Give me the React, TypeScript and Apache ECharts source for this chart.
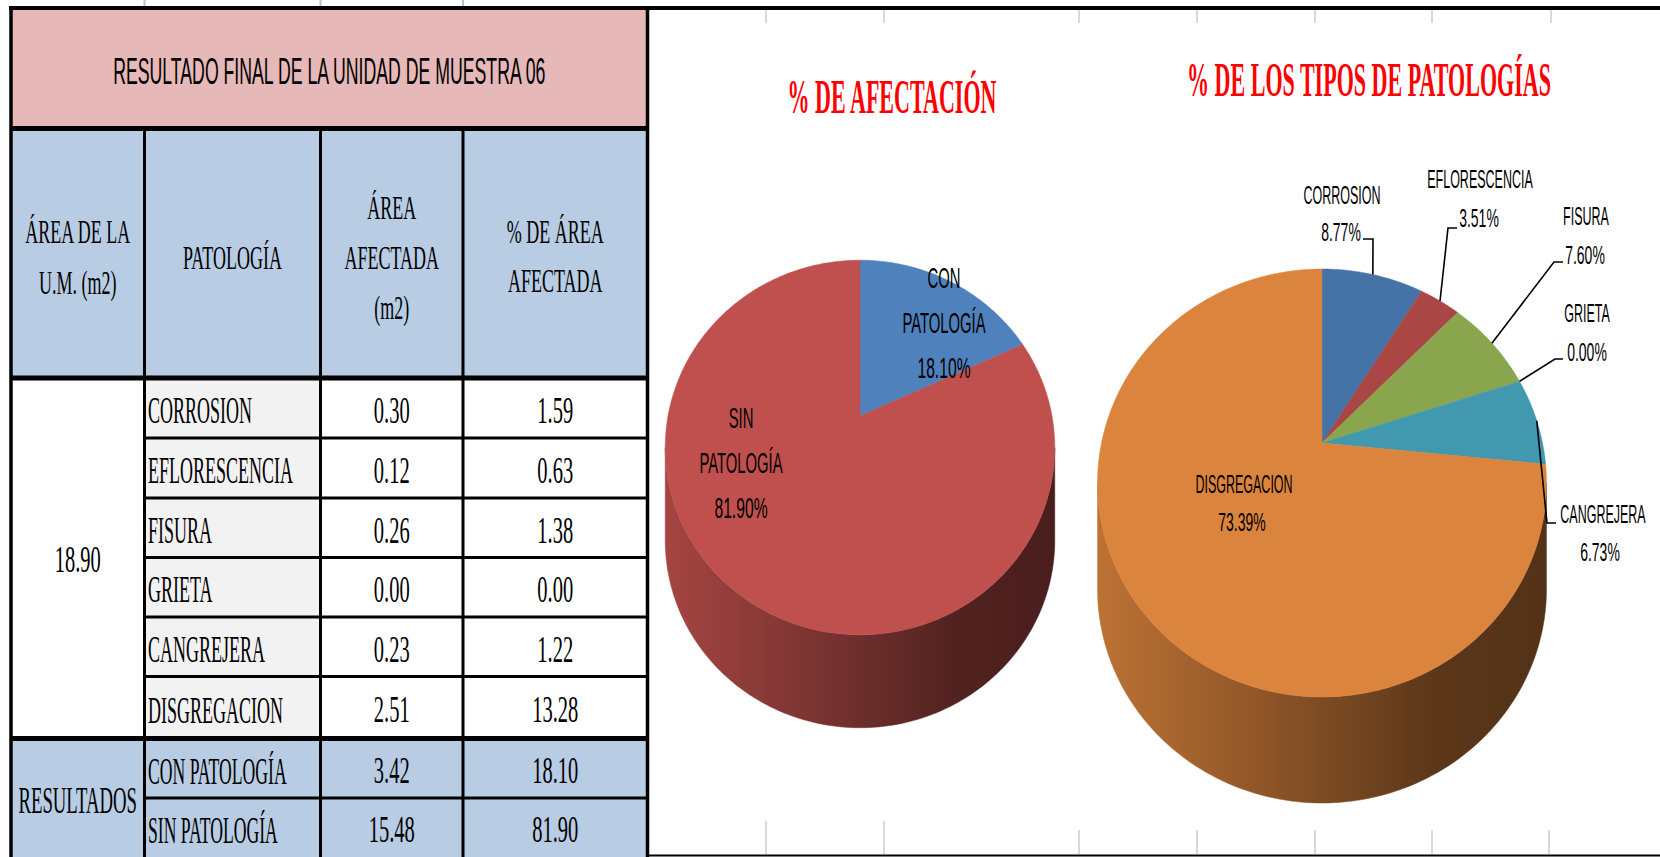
import React, { useEffect, useRef } from 'react';
import * as echarts from 'echarts';

// ---------------- DATA ----------------
const tableTitle = 'RESULTADO FINAL DE LA UNIDAD DE MUESTRA 06';
const headerCol1 = ['ÁREA DE LA', 'U.M. (m2)'];
const headerCol2 = ['PATOLOGÍA'];
const headerCol3 = ['ÁREA', 'AFECTADA', '(m2)'];
const headerCol4 = ['% DE ÁREA', 'AFECTADA'];
const unitArea = '18.90';
const pathologies = ['CORROSION', 'EFLORESCENCIA', 'FISURA', 'GRIETA', 'CANGREJERA', 'DISGREGACION'];
const affectedArea = [0.3, 0.12, 0.26, 0.0, 0.23, 2.51];
const affectedPct = [1.59, 0.63, 1.38, 0.0, 1.22, 13.28];
const resultLabel = 'RESULTADOS';
const resultCategories = ['CON PATOLOGÍA', 'SIN PATOLOGÍA'];
const resultArea = [3.42, 15.48];
const resultPct = [18.1, 81.9];

const chart1Title = '% DE AFECTACIÓN';
const chart1Names = [['CON', 'PATOLOGÍA'], ['SIN', 'PATOLOGÍA']];
const chart1Values = resultArea;
const chart2Title = '% DE LOS TIPOS DE PATOLOGÍAS';
const chart2Names = pathologies;
const chart2Values = affectedArea;

// ---------------- STYLE / LAYOUT ----------------
const chart1Colors = ['#4F81BD', '#C0504D'];
const chart2Colors = ['#4572A7', '#AA4643', '#89A54E', '#71588F', '#4198AF', '#DB843D'];
const PINK = '#E6B8B7';
const BLUE = '#B8CCE4';
const GRAY = '#F2F2F2';
const SERIF = '"Liberation Serif", "Times New Roman", serif';
const SANS = '"Liberation Sans", Arial, sans-serif';

const colX = [11, 144.5, 320.5, 463, 647.5];
const yTop = 8;
const yTitleBottom = 128.5;
const yHeaderBottom = 378;
const rowLines = [378, 438, 498, 557.5, 617, 676.5, 738.5];
const resultLines = [738.5, 798, 857];

type Geo = { cx: number; cy: number; rx: number; ry: number; k: number; depth: number };
const leftGeo: Geo = { cx: 860, cy: 416, rx: 192, ry: 182, k: 0.168, depth: 93 };
const rightGeo: Geo = { cx: 1322, cy: 443, rx: 220.5, ry: 206.5, k: 0.187, depth: 106 };

const leftLabelPos = [[944, 278], [741, 418]];
const leftLabelGap = 45;
const rightNamePos = [[1342, 194], [1480, 178], [1586, 215], [1587, 312], [1603, 513], [1244, 483]];
const rightPctPos = [[1341, 232], [1479, 218], [1585, 255], [1587, 352], [1600, 552], [1242, 522]];
// elbow x, elbow y, end x
const rightLeader: (number[] | null)[] = [
  [1373, 239, 1363],
  [1448, 228, 1457],
  [1554, 262, 1563],
  [1555, 359, 1563],
  [1547, 523, 1556],
  null,
];

// ---------------- HELPERS ----------------
function project(g: Geo, t: number, dy = 0): number[] {
  const u = Math.sin(t);
  const v = -Math.cos(t);
  const w = 1 - g.k * v;
  return [g.cx + (g.rx * u) / w, g.cy + (g.ry * v) / w + dy];
}
function arcPoints(g: Geo, a0: number, a1: number, dy = 0): number[][] {
  const n = Math.max(2, Math.ceil((a1 - a0) / (Math.PI / 180)));
  const pts: number[][] = [];
  for (let j = 0; j <= n; j++) pts.push(project(g, a0 + ((a1 - a0) * j) / n, dy));
  return pts;
}
function sliceAngles(values: number[]): number[][] {
  const total = values.reduce((a, b) => a + b, 0);
  let acc = 0;
  return values.map((v) => {
    const a0 = (acc / total) * Math.PI * 2;
    acc += v;
    return [a0, (acc / total) * Math.PI * 2];
  });
}
function pctText(values: number[], i: number): string {
  const total = values.reduce((a, b) => a + b, 0);
  return ((values[i] / total) * 100).toFixed(2) + '%';
}
function shade(hex: string, f: number): string {
  const n = parseInt(hex.slice(1), 16);
  const r = (n >> 16) & 255, g = (n >> 8) & 255, b = n & 255;
  return `rgb(${Math.round(r * f)},${Math.round(g * f)},${Math.round(b * f)})`;
}

function pieBodySeries(g: Geo, values: number[], colors: string[]) {
  const angles = sliceAngles(values);
  const f0 = Math.PI / 2 + Math.asin(g.k);
  const f1 = (3 * Math.PI) / 2 - Math.asin(g.k);
  return {
    type: 'custom',
    coordinateSystem: 'none',
    silent: true,
    z: 2,
    data: values.map((v) => ({ value: v })),
    renderItem: (params: any) => {
      const i = params.dataIndex;
      const [a0, a1] = angles[i];
      const children: any[] = [];
      if (a1 - a0 <= 1e-9) return { type: 'group', children };
      const c = colors[i];
      const s0 = Math.max(a0, f0);
      const s1 = Math.min(a1, f1);
      if (s1 > s0) {
        const top = arcPoints(g, s0, s1);
        const bot = arcPoints(g, s0, s1, g.depth).reverse();
        const grad = new echarts.graphic.LinearGradient(
          g.cx - g.rx * 1.02, 0, g.cx + g.rx * 1.02, 0,
          [
            { offset: 0, color: shade(c, 0.86) },
            { offset: 0.25, color: shade(c, 0.72) },
            { offset: 0.5, color: shade(c, 0.57) },
            { offset: 0.75, color: shade(c, 0.42) },
            { offset: 1, color: shade(c, 0.38) },
          ],
          true
        );
        children.push({
          type: 'polygon',
          shape: { points: top.concat(bot) },
          style: { fill: grad, stroke: grad, lineWidth: 0.5 },
        });
      }
      const pts = [[g.cx, g.cy]].concat(arcPoints(g, a0, a1));
      children.push({
        type: 'polygon',
        shape: { points: pts },
        style: { fill: c, stroke: c, lineWidth: 0.5 },
      });
      return { type: 'group', children };
    },
  };
}

function txt(x: number, y: number, text: string, size: number, family: string, sx: number, extra: any = {}) {
  return {
    type: 'text',
    x,
    y,
    scaleX: sx,
    scaleY: extra.sy || 1,
    style: {
      text,
      fontSize: size,
      fontFamily: family,
      fontWeight: extra.bold ? 'bold' : 'normal',
      fill: extra.fill || '#000',
      align: extra.align || 'center',
      verticalAlign: 'middle',
    },
  };
}

function leftLabelSeries() {
  return {
    type: 'custom',
    coordinateSystem: 'none',
    silent: true,
    z: 3,
    data: chart1Values.map((v) => ({ value: v })),
    renderItem: (params: any) => {
      const i = params.dataIndex;
      const [x, y] = leftLabelPos[i];
      const lines = chart1Names[i];
      return {
        type: 'group',
        children: [
          txt(x, y, lines[0], 28, SANS, 0.53, { sy: 1.05 }),
          txt(x, y + leftLabelGap, lines[1], 28, SANS, 0.53, { sy: 1.05 }),
          txt(x, y + leftLabelGap * 2, pctText(chart1Values, i), 28, SANS, 0.56, { sy: 1.05 }),
        ],
      };
    },
  };
}

function rightLabelSeries() {
  const angles = sliceAngles(chart2Values);
  return {
    type: 'custom',
    coordinateSystem: 'none',
    silent: true,
    z: 3,
    data: chart2Values.map((v) => ({ value: v })),
    renderItem: (params: any) => {
      const i = params.dataIndex;
      const children: any[] = [];
      const lead = rightLeader[i];
      if (lead) {
        const mid = project(rightGeo, (angles[i][0] + angles[i][1]) / 2);
        children.push({
          type: 'polyline',
          shape: { points: [mid, [lead[0], lead[1]], [lead[2], lead[1]]] },
          style: { stroke: '#000', lineWidth: 1.6, fill: null },
        });
      }
      children.push(txt(rightNamePos[i][0], rightNamePos[i][1], chart2Names[i], 25, SANS, 0.5, { sy: 1.05 }));
      children.push(txt(rightPctPos[i][0], rightPctPos[i][1], pctText(chart2Values, i), 25, SANS, 0.56, { sy: 1.05 }));
      return { type: 'group', children };
    },
  };
}

function hline(y: number, x0: number, x1: number, w: number, color = '#000') {
  return { type: 'line', shape: { x1: x0, y1: y, x2: x1, y2: y }, style: { stroke: color, lineWidth: w } };
}
function vline(x: number, y0: number, y1: number, w: number, color = '#000') {
  return { type: 'line', shape: { x1: x, y1: y0, x2: x, y2: y1 }, style: { stroke: color, lineWidth: w } };
}
function rect(x0: number, y0: number, x1: number, y1: number, fill: string) {
  return { type: 'rect', shape: { x: x0, y: y0, width: x1 - x0, height: y1 - y0 }, style: { fill } };
}

function tableElements() {
  const L = colX[0], R = colX[4];
  const els: any[] = [];
  // fills
  els.push(rect(L, yTop, R, yTitleBottom, PINK));
  els.push(rect(L, yTitleBottom, R, yHeaderBottom, BLUE));
  els.push(rect(colX[1], yHeaderBottom, colX[2], resultLines[0], GRAY));
  els.push(rect(L, resultLines[0], R, resultLines[2], BLUE));
  // grid ticks
  [144.5, 320.5, 463].forEach((x) => els.push(vline(x, 0, 6, 2, '#BFBFBF')));
  [766, 884, 1079, 1197, 1315, 1432, 1551].forEach((x) => els.push(vline(x, 10, 23, 2, '#D9D9D9')));
  [766, 884].forEach((x) => els.push(vline(x, 821, 854, 2, '#D9D9D9')));
  [1079, 1197, 1315, 1432, 1549].forEach((x) => els.push(vline(x, 830, 854, 2, '#D9D9D9')));
  // lines
  els.push(hline(yTop, 9, 1660, 4));
  els.push(hline(855.5, R, 1660, 2));
  els.push(vline(L, 6, 857, 3.5));
  els.push(vline(R, 6, 857, 3.5));
  els.push(hline(yTitleBottom, L, R, 5));
  els.push(hline(yHeaderBottom, L, R, 5));
  els.push(hline(resultLines[0], L, R, 5));
  for (let j = 1; j < 4; j++) els.push(vline(colX[j], yTitleBottom, 857, 3));
  for (let j = 1; j < rowLines.length - 1; j++) els.push(hline(rowLines[j], colX[1], R, 3));
  els.push(hline(resultLines[1], colX[1], R, 3));

  // texts
  els.push(txt((L + R) / 2, 71, tableTitle, 30, SANS, 0.59, { sy: 1.22 }));
  const c1 = (colX[0] + colX[1]) / 2, c2 = (colX[1] + colX[2]) / 2, c3 = (colX[2] + colX[3]) / 2, c4 = (colX[3] + colX[4]) / 2;
  const hs = { sy: 1.1 };
  els.push(txt(c1, 232, headerCol1[0], 30, SERIF, 0.6, hs));
  els.push(txt(c1, 283, headerCol1[1], 30, SERIF, 0.6, hs));
  els.push(txt(c2, 258, headerCol2[0], 30, SERIF, 0.6, hs));
  els.push(txt(c3, 208, headerCol3[0], 30, SERIF, 0.6, hs));
  els.push(txt(c3, 258, headerCol3[1], 30, SERIF, 0.6, hs));
  els.push(txt(c3, 308, headerCol3[2], 30, SERIF, 0.6, hs));
  els.push(txt(c4, 232, headerCol4[0], 30, SERIF, 0.6, hs));
  els.push(txt(c4, 281, headerCol4[1], 30, SERIF, 0.6, hs));

  const ds = { sy: 1.04 };
  els.push(txt(c1, 560, unitArea, 36, SERIF, 0.57, ds));
  pathologies.forEach((p, i) => {
    const yc = (rowLines[i] + rowLines[i + 1]) / 2 + 2.5;
    els.push(txt(148, yc, p, 36, SERIF, 0.5, { align: 'left', sy: 1.04 }));
    els.push(txt(c3, yc, affectedArea[i].toFixed(2), 36, SERIF, 0.57, ds));
    els.push(txt(c4, yc, affectedPct[i].toFixed(2), 36, SERIF, 0.57, ds));
  });
  els.push(txt(c1, 800, resultLabel, 36, SERIF, 0.52, ds));
  resultCategories.forEach((p, i) => {
    const yc = (resultLines[i] + resultLines[i + 1]) / 2 + 2.5;
    els.push(txt(148, yc, p, 36, SERIF, 0.49, { align: 'left', sy: 1.04 }));
    els.push(txt(c3, yc, resultArea[i].toFixed(2), 36, SERIF, 0.57, ds));
    els.push(txt(c4, yc, resultPct[i].toFixed(2), 36, SERIF, 0.57, ds));
  });

  // chart titles
  els.push(txt(892, 96, chart1Title, 45, SERIF, 0.49, { bold: true, fill: '#FF0000', sy: 1.08 }));
  els.push(txt(1369, 79, chart2Title, 45, SERIF, 0.49, { bold: true, fill: '#FF0000', sy: 1.08 }));
  return els;
}

function buildOption() {
  return {
    animation: false,
    backgroundColor: '#FFFFFF',
    graphic: { elements: tableElements() },
    series: [
      pieBodySeries(leftGeo, chart1Values, chart1Colors),
      pieBodySeries(rightGeo, chart2Values, chart2Colors),
      leftLabelSeries(),
      rightLabelSeries(),
    ],
  };
}

export default function App() {
  const ref = useRef<HTMLDivElement>(null);
  useEffect(() => {
    document.body.style.margin = '0';
    const chart = echarts.init(ref.current as HTMLDivElement, null, { renderer: 'svg', width: 1660, height: 857 });
    chart.setOption(buildOption() as any);
    return () => chart.dispose();
  }, []);
  return <div ref={ref} style={{ width: 1660, height: 857 }} />;
}
